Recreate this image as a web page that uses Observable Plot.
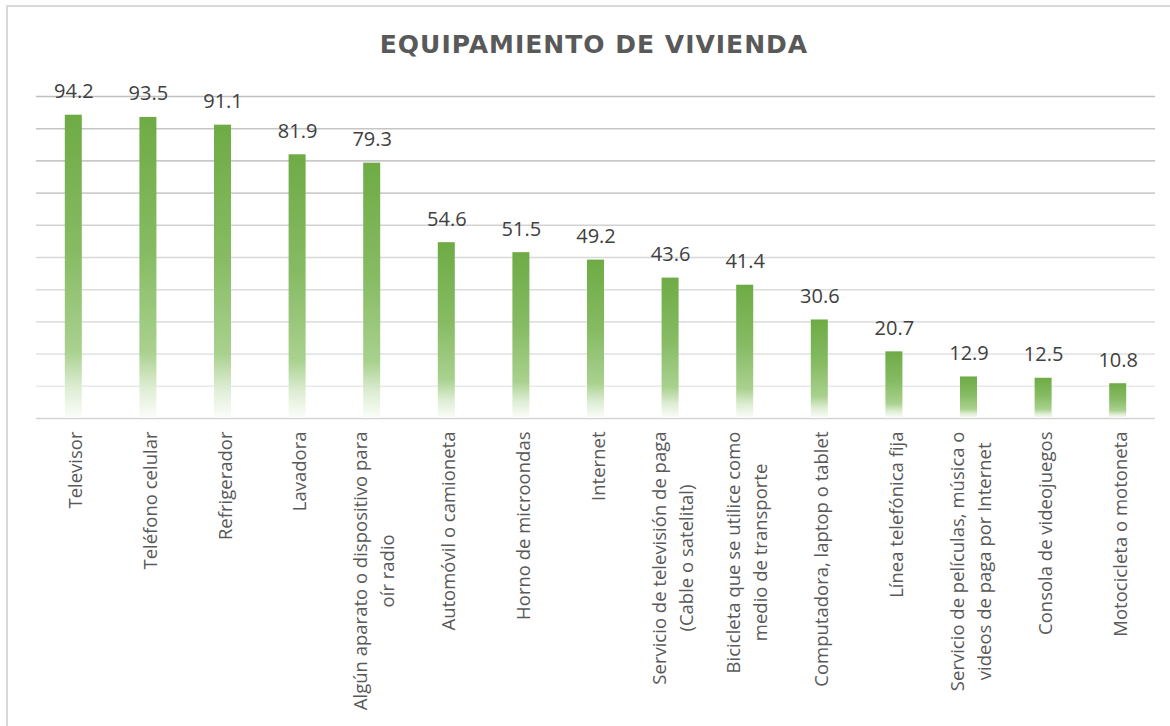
<!DOCTYPE html>
<html>
<head>
<meta charset="utf-8">
<script src="https://cdn.jsdelivr.net/npm/d3@7"></script>
<script src="https://cdn.jsdelivr.net/npm/@observablehq/plot@0.6"></script>
<style>
  html, body { margin: 0; padding: 0; background: #fff; }
  #wrap { position: relative; width: 1170px; height: 726px; overflow: hidden; }
  #frame { position: absolute; left: 6px; top: 5px; width: 1170px; height: 730px;
           border-top: 2px solid #d9d9d9; border-left: 2px solid #d9d9d9; box-sizing: border-box; }
  #title { position: relative; height: 80px; box-sizing: border-box; padding-top: 30px;
           padding-left: 18px; text-align: center; font-family: "DejaVu Sans", sans-serif;
           font-weight: bold; font-size: 25px; letter-spacing: 1px; color: #595959; }
  #chart { position: relative; }
</style>
</head>
<body>
<div id="wrap">
  <div id="frame"></div>
  <div id="title">EQUIPAMIENTO DE VIVIENDA</div>
  <div id="chart"></div>
</div>
<script>
const categories = [
  "Televisor",
  "Teléfono celular",
  "Refrigerador",
  "Lavadora",
  "Algún aparato o dispositivo para\noír radio",
  "Automóvil o camioneta",
  "Horno de microondas",
  "Internet",
  "Servicio de televisión de paga\n(Cable o satelital)",
  "Bicicleta que se utilice como\nmedio de transporte",
  "Computadora, laptop o tablet",
  "Línea telefónica fija",
  "Servicio de películas, música o\nvideos de paga por Internet",
  "Consola de videojuegos",
  "Motocicleta o motoneta"
];
const values = [94.2, 93.5, 91.1, 81.9, 79.3, 54.6, 51.5, 49.2, 43.6, 41.4, 30.6, 20.7, 12.9, 12.5, 10.8];
const gridTicks = [0, 10, 20, 30, 40, 50, 60, 70, 80, 90, 100];

const data = categories.map((c, i) => ({category: c, value: values[i]}));
const gridColor = d3.interpolateRgb("#eeeeee", "#c0c0c0");

const defs = () => {
  const d = d3.create("svg:defs");
  const g = d.append("linearGradient").attr("id", "barGrad")
    .attr("x1", 0).attr("y1", 0).attr("x2", 0).attr("y2", 1);
  g.append("stop").attr("offset", "0%").attr("stop-color", "#6eab45");
  g.append("stop").attr("offset", "45%").attr("stop-color", "#86bb63");
  g.append("stop").attr("offset", "78%").attr("stop-color", "#a9d18e");
  g.append("stop").attr("offset", "90%").attr("stop-color", "#deedd4");
  g.append("stop").attr("offset", "100%").attr("stop-color", "#fbfdfa");
  return d.node();
};

const chart = Plot.plot({
  width: 1170,
  height: 646,
  marginTop: 16,
  marginBottom: 308,
  marginLeft: 36,
  marginRight: 15,
  style: {fontFamily: "'Open Sans', sans-serif", background: "transparent", overflow: "visible"},
  x: {domain: categories, paddingInner: 0.772, paddingOuter: 0.386, round: false, label: null},
  y: {domain: [0, 100], axis: null},
  marks: [
    defs,
    Plot.ruleY(gridTicks, {
      stroke: d => d === 0 ? "#d4d4d4" : gridColor(d / 100),
      strokeWidth: 1.6
    }),
    Plot.barY(data, {x: "category", y: "value", fill: "url(#barGrad)"}),
    Plot.text(data, {
      x: "category", y: "value", text: d => d.value.toFixed(1),
      lineAnchor: "bottom", dy: -17, fontSize: 20, fill: "#404040"
    }),
    Plot.axisX({
      tickSize: 0, tickPadding: 13, tickRotate: -90,
      fontSize: 18.5, fill: "#595959", lineHeight: 1.45, label: null,
      tickFormat: d => d
    })
  ]
});
document.getElementById("chart").appendChild(chart);

// center the lines of multi-line labels on each other, as in the reference
d3.select(chart).selectAll("g[aria-label='x-axis tick label'] text").each(function() {
  const spans = this.querySelectorAll("tspan");
  if (spans.length > 1) {
    let maxLen = 0;
    spans.forEach(s => { maxLen = Math.max(maxLen, s.getComputedTextLength()); });
    this.setAttribute("text-anchor", "middle");
    spans.forEach(s => s.setAttribute("x", -maxLen / 2));
  }
});
</script>
</body>
</html>
